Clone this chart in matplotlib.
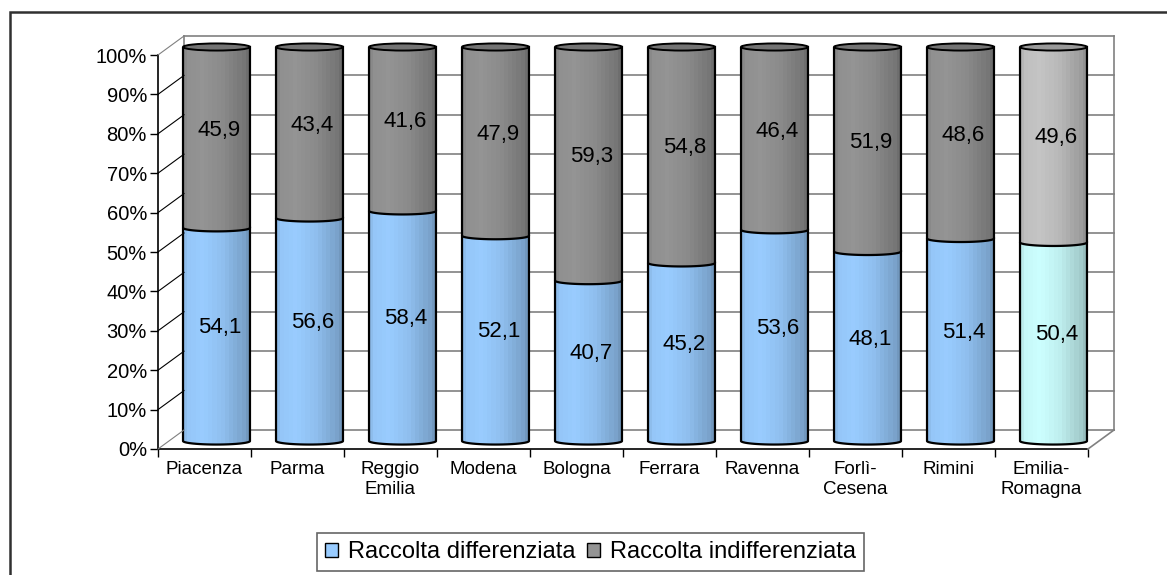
import numpy as np
import matplotlib
matplotlib.use("Agg")
import matplotlib.pyplot as plt
import matplotlib.transforms as mtransforms
from matplotlib.patches import PathPatch, Ellipse, Rectangle, Patch
from matplotlib.path import Path

plt.rcParams['font.family'] = ['Liberation Sans', 'DejaVu Sans']

# Data
province = ["Piacenza", "Parma", "Reggio\nEmilia", "Modena", "Bologna", "Ferrara",
            "Ravenna", "Forlì-\nCesena", "Rimini", "Emilia-\nRomagna"]
differenziata = [54.1, 56.6, 58.4, 52.1, 40.7, 45.2, 53.6, 48.1, 51.4, 50.4]
indifferenziata = [45.9, 43.4, 41.6, 47.9, 59.3, 54.8, 46.4, 51.9, 48.6, 49.6]
y_ticks = [0, 10, 20, 30, 40, 50, 60, 70, 80, 90, 100]
serie = ["Raccolta differenziata", "Raccolta indifferenziata"]

# colours (last bar = regional total)
blu = (0.60, 0.80, 1.00)
grigio = (0.58, 0.58, 0.58)
ciano = (0.80, 1.00, 1.00)
grigio_chiaro = (0.77, 0.77, 0.77)

fig = plt.figure(figsize=(11.67, 5.75), dpi=100)
W, H = 1167, 575
ax = fig.add_axes([158 / W, (H - 449) / H, 930 / W, 394 / H])
n = len(province)
ax.set_xlim(-0.5, n - 0.5)
ax.set_ylim(0, 100)
ax.patch.set_visible(False)


def shifted(dx, dy):
    # pixel offset towards the back of the 3D box
    return ax.transData + mtransforms.ScaledTranslation(dx / 100, dy / 100, fig.dpi_scale_trans)


back = shifted(26, 19)
mid = shifted(12, 8)
lab = shifted(15, 15)

# back wall, side wall and floor
wall = "#808080"
x0, x1 = -0.5, n - 0.5
for t in y_ticks:
    c = wall if t in (0, 100) else "black"
    ax.plot([x0, x1], [t, t], transform=back, color=wall, lw=1.2, zorder=1, clip_on=False)
    # side wall diagonals from front axis to back wall
    pf = ax.transData.transform((x0, t))
    pb = back.transform((x0, t))
    fig.lines.append(plt.Line2D([pf[0] / W, pb[0] / W], [pf[1] / H, pb[1] / H],
                                transform=fig.transFigure, color=c, lw=0.8, zorder=1))
ax.plot([x0, x0], [0, 100], transform=back, color=wall, lw=1.2, zorder=1, clip_on=False)
ax.plot([x1, x1], [0, 100], transform=back, color=wall, lw=1.2, zorder=1, clip_on=False)
pf = ax.transData.transform((x1, 0))
pb = back.transform((x1, 0))
fig.lines.append(plt.Line2D([pf[0] / W, pb[0] / W], [pf[1] / H, pb[1] / H],
                            transform=fig.transFigure, color=wall, lw=1.2))

hw = 0.36   # half bar width (category units)
eh = 0.9    # half ellipse height (percent units)
prof_t = [0.0, 0.08, 0.3, 0.6, 0.9, 1.0]
prof_f = [0.90, 0.97, 1.0, 0.93, 0.80, 0.72]
nstrip = 16


def segment(xc, y0, y1, base, z):
    t = np.linspace(np.pi, 2 * np.pi, 40)
    verts = [(xc - hw, y1)] + list(zip(xc + hw * np.cos(t), y0 + eh * np.sin(t))) + \
            [(xc + hw, y1), (xc - hw, y1)]
    shape = PathPatch(Path(verts), facecolor="none", edgecolor="none", transform=mid)
    ax.add_patch(shape)
    shape.set_clip_on(False)
    sw = 2 * hw / nstrip
    for k in range(nstrip):
        f = np.interp((k + 0.5) / nstrip, prof_t, prof_f)
        col = tuple(min(1, c * f) for c in base)
        r = Rectangle((xc - hw + k * sw, y0 - 2 * eh), sw * 1.02, y1 - y0 + 3 * eh,
                      facecolor=col, edgecolor="none", transform=mid, zorder=z)
        ax.add_patch(r)
        r.set_clip_box(None)
        r.set_clip_path(shape)
    outline = PathPatch(Path(verts), facecolor="none", edgecolor="black", lw=1.6,
                        transform=mid, zorder=z + 0.1, clip_on=False)
    ax.add_patch(outline)


for i in range(n):
    c1, c2 = (ciano, grigio_chiaro) if i == n - 1 else (blu, grigio)
    d = differenziata[i]
    segment(i, 0, d, c1, 3)
    segment(i, d, 100, c2, 4)
    cap = tuple(c * 0.78 for c in c2)
    ax.add_patch(Ellipse((i, 100), 2 * hw, 2 * eh, facecolor=cap, edgecolor="black",
                         lw=1.4, transform=mid, zorder=5, clip_on=False))
    ax.text(i, d / 2, f"{d:.1f}".replace(".", ","), transform=lab, ha="center",
            va="center", fontsize=16, zorder=6)
    ax.text(i, d + indifferenziata[i] / 2, f"{indifferenziata[i]:.1f}".replace(".", ","),
            transform=lab, ha="center", va="center", fontsize=16, zorder=6)

# axes
for s in ("top", "right"):
    ax.spines[s].set_visible(False)
for s in ("left", "bottom"):
    ax.spines[s].set_color("black")
    ax.spines[s].set_linewidth(1.2)
    ax.spines[s].set_zorder(7)
ax.set_yticks(y_ticks)
ax.set_yticklabels([f"{t}%" for t in y_ticks])
ax.tick_params(axis="y", direction="out", length=6, width=1, pad=2, labelsize=14.5)
ax.set_xticks(range(n))
ax.set_xticklabels(province)
ax.set_xticks(np.arange(n + 1) - 0.5, minor=True)
ax.tick_params(axis="x", which="major", length=0, pad=9, labelsize=13.5)
ax.tick_params(axis="x", which="minor", direction="out", length=6, width=1)

handles = [Patch(facecolor=blu, edgecolor="black", lw=1),
           Patch(facecolor=grigio, edgecolor="black", lw=1)]
leg = fig.legend(handles, serie, loc="center", bbox_to_anchor=(0.506, 0.040), ncol=2,
                 fontsize=17, frameon=True, fancybox=False, handlelength=0.55,
                 handleheight=0.55, handletextpad=0.4, columnspacing=0.5,
                 borderpad=0.35, borderaxespad=0)
leg.get_frame().set_edgecolor("#404040")
leg.get_frame().set_linewidth(1.2)

# outer frame (cut by the picture border on right and bottom)
fig.patches.append(Rectangle((10 / W, -0.05), 1.1, (H - 12) / H + 0.05, transform=fig.transFigure,
                             facecolor="none", edgecolor="#303030", lw=1.8))

fig.savefig("out.png", dpi=100)
